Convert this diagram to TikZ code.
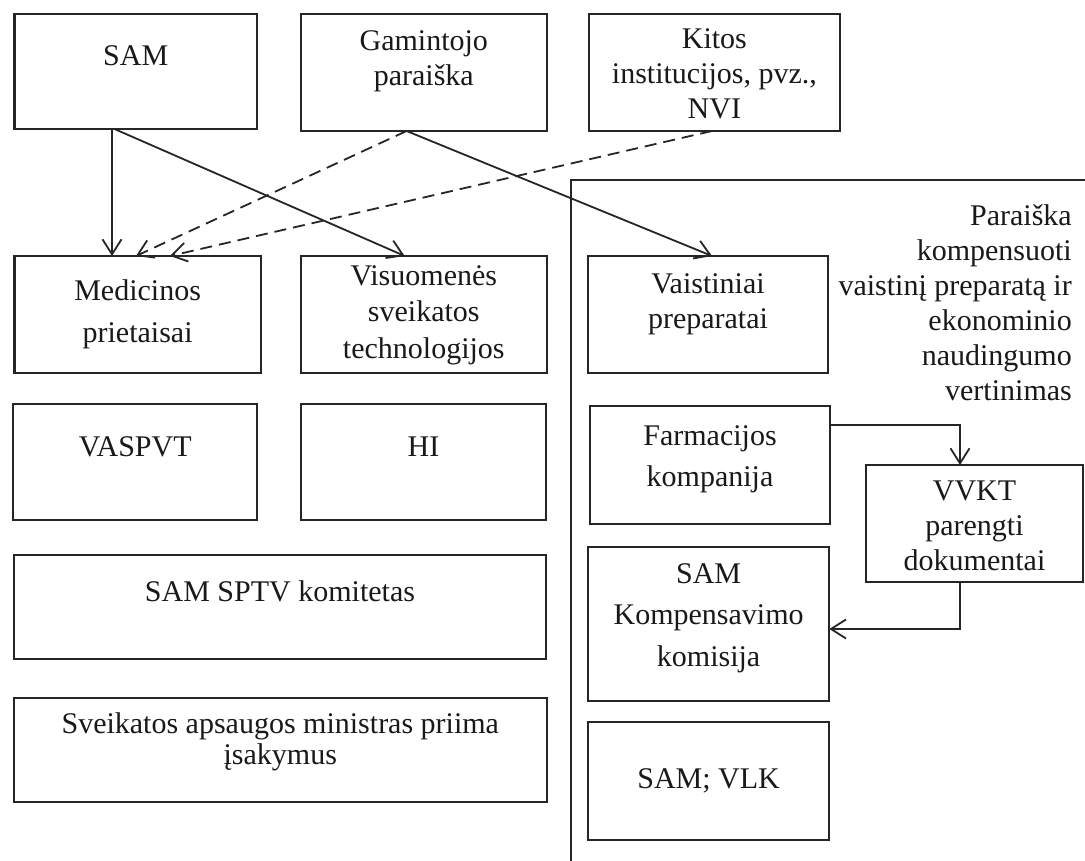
\documentclass[tikz,border=0pt]{standalone}
\usepackage{fontspec}
\setmainfont{Liberation Serif}
\usetikzlibrary{arrows.meta}
\tikzset{
 box/.style={draw=black!85, line width=2.2pt, inner sep=0pt, outer sep=0pt, anchor=north west},
 lbl/.style={font=\fontsize{30}{#1}\selectfont, inner sep=0pt, anchor=base, align=center, text=black!90},
 lbl/.default=35,
 conn/.style={draw=black!85, line width=1.8pt, -{Straight Barb[length=15pt,width=19pt,line width=1.8pt]}},
 dconn/.style={conn, dash pattern=on 12pt off 7pt},
 frame/.style={draw=black!85, line width=2.2pt},
}
\begin{document}
\begin{tikzpicture}[x=1pt,y=1pt]
\useasboundingbox[fill=white] (0,0) rectangle (1085,-861);
% big open frame
\draw[frame] (1090,-180) -- (571,-180) -- (571,-866);
% boxes
\node[box, minimum width=242.5pt, minimum height=115pt] (sam) at (14.5,-14) {};
\node[box, minimum width=245.7pt, minimum height=117pt] (gam) at (301,-14) {};
\node[box, minimum width=251.3pt, minimum height=117pt] (kit) at (588.7,-14) {};
\node[box, minimum width=246.2pt, minimum height=117pt] (med) at (14.5,-256) {};
\node[box, minimum width=245.7pt, minimum height=117pt] (vis) at (301,-256) {};
\node[box, minimum width=240.3pt, minimum height=117pt] (vai) at (588,-256) {};
\node[box, minimum width=244.3pt, minimum height=116pt] (vas) at (13,-404) {};
\node[box, minimum width=245pt, minimum height=116pt] (hi) at (301,-404) {};
\node[box, minimum width=240.3pt, minimum height=118pt] (farm) at (590,-406) {};
\node[box, minimum width=217pt, minimum height=116.7pt] (vvkt) at (866,-465) {};
\node[box, minimum width=532pt, minimum height=104pt] (sptv) at (14,-555) {};
\node[box, minimum width=241.3pt, minimum height=154pt] (komp) at (588,-547) {};
\node[box, minimum width=532.7pt, minimum height=104pt] (sve) at (14,-698) {};
\node[box, minimum width=240.7pt, minimum height=118pt] (vlk) at (588.3,-722) {};
% texts (anchor = baseline of the last line)
\node[lbl] (t-sam) at (135.7,-65.7) {SAM};
\node[lbl=34.5] (t-gam) at (423.8,-85.5) {Gamintojo\\paraiška};
\node[lbl=35] (t-kit) at (714.4,-119) {Kitos\\institucijos, pvz.,\\NVI};
\node[lbl=42] (t-med) at (137.6,-342) {Medicinos\\prietaisai};
\node[lbl=36.5] (t-vis) at (423.8,-358) {Visuomenės\\sveikatos\\technologijos};
\node[lbl=35] (t-vai) at (708,-328) {Vaistiniai\\preparatai};
\node[lbl=35, align=right, anchor=base east] (t-par) at (1072,-400) {Paraiška\\kompensuoti\\vaistinį preparatą ir\\ekonominio\\naudingumo\\vertinimas};
\node[lbl] (t-vas) at (135.2,-456.7) {VASPVT};
\node[lbl] (t-hi) at (423.5,-456.7) {HI};
\node[lbl=41.7] (t-farm) at (710,-486.7) {Farmacijos\\kompanija};
\node[lbl=35] (t-vvkt) at (974.5,-570) {VVKT\\parengti\\dokumentai};
\node[lbl] (t-sptv) at (280,-601.7) {SAM SPTV komitetas};
\node[lbl=41.7] (t-komp) at (708.6,-666.4) {SAM\\Kompensavimo\\komisija};
\node[lbl=31] (t-sve) at (280.3,-764) {Sveikatos apsaugos ministras priima\\įsakymus};
\node[lbl] (t-vlk) at (708.6,-788) {SAM; VLK};
% connectors
\draw[conn] ([xshift=-23.75pt]sam.south) -- ([xshift=-25.6pt]med.north);
\draw[conn] ([xshift=-21.25pt]sam.south) -- ([xshift=-19.15pt]vis.north);
\draw[conn] ([xshift=-17.25pt]gam.south) -- ([xshift=3.85pt]vai.north);
\draw[dconn] ([xshift=-17.25pt]gam.south) -- ([xshift=-1.6pt]med.north);
\draw[dconn] ([xshift=-2.35pt]kit.south) -- ([xshift=32.4pt]med.north);
\draw[conn] ([yshift=40pt]farm.east) -| ([xshift=-14.5pt]vvkt.north);
\draw[conn] ([xshift=-14.5pt]vvkt.south) |- ([yshift=-5pt]komp.east);
\end{tikzpicture}
\end{document}
